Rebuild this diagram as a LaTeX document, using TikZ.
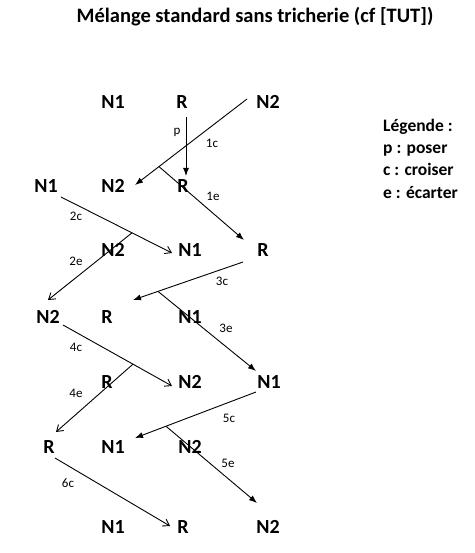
\documentclass[tikz,border=0pt]{standalone}
\usepackage{fontspec}
\setmainfont{Carlito}
\usetikzlibrary{positioning,arrows.meta}

\begin{document}
\begin{tikzpicture}[x=1pt,y=-1pt,
    every node/.style={inner sep=0pt,text depth=0pt},
    carte/.style={font=\bfseries\fontsize{20}{24}\selectfont},
    etape/.style={font=\fontsize{13}{15}\selectfont},
    legende/.style={anchor=base west,font=\bfseries\fontsize{17.5}{20}\selectfont},
    plein/.style={line width=0.9pt,-{Latex[length=8pt,width=6pt]}},
    ouvert/.style={line width=0.9pt,-{Straight Barb[length=6pt,width=8pt]}}]
  \useasboundingbox (0,0) rectangle (474,553);
  \node[anchor=base,font=\bfseries\fontsize{20.5}{24}\selectfont] (titre) at (255,23) {Mélange standard sans tricherie (cf [TUT])};
  \node[carte] (a1) at (113,102) {N1};
  \node[carte] (a2) at (182,102) {R};
  \node[carte] (a3) at (268,102) {N2};
  \node[carte] (b1) at (46,186) {N1};
  \node[carte] (b2) at (113,186) {N2};
  \node[carte] (b3) at (183,186) {R};
  \node[carte] (c1) at (113,250) {N2};
  \node[carte] (c2) at (190,250) {N1};
  \node[carte] (c3) at (263,250) {R};
  \node[carte] (d1) at (48,317) {N2};
  \node[carte] (d2) at (107,317) {R};
  \node[carte] (d3) at (190,317) {N1};
  \node[carte] (e1) at (107,382) {R};
  \node[carte] (e2) at (190,382) {N2};
  \node[carte] (e3) at (269,382) {N1};
  \node[carte] (f1) at (49,447) {R};
  \node[carte] (f2) at (113,447) {N1};
  \node[carte] (f3) at (190,447) {N2};
  \node[carte] (g1) at (113,527) {N1};
  \node[carte] (g2) at (183,527) {R};
  \node[carte] (g3) at (268,527) {N2};
  % bouts des fleches
  \coordinate (p0) at (186,117);
  \coordinate (p1) at (186,176);
  \coordinate (c1s) at (247,99);
  \coordinate (c1e) at (135,185);
  \coordinate (e1e) at (244,240);
  \coordinate (c2s) at (61,197);
  \coordinate (c2e) at (172,253);
  \coordinate (e2e) at (48,300);
  \coordinate (c3s) at (243,262);
  \coordinate (c3e) at (133,300);
  \coordinate (e3e) at (256,371);
  \coordinate (c4s) at (63,325);
  \coordinate (c4e) at (172,386);
  \coordinate (e4e) at (56,432);
  \coordinate (c5s) at (256,392);
  \coordinate (c5e) at (135,438);
  \coordinate (e5e) at (257,503);
  \coordinate (c6s) at (55,458);
  \coordinate (c6e) at (170,526);
  \draw[plein] (p0) -- (p1);
  \draw[plein] (c1s) -- coordinate[pos=0.786] (e1s) (c1e);
  \draw[plein] (e1s) -- (e1e);
  \draw[ouvert] (c2s) -- coordinate[pos=0.64] (e2s) (c2e);
  \draw[ouvert] (e2s) -- (e2e);
  \draw[plein] (c3s) -- coordinate[pos=0.773] (e3s) (c3e);
  \draw[plein] (e3s) -- (e3e);
  \draw[ouvert] (c4s) -- coordinate[pos=0.642] (e4s) (c4e);
  \draw[ouvert] (e4s) -- (e4e);
  \draw[plein] (c5s) -- coordinate[pos=0.744] (e5s) (c5e);
  \draw[plein] (e5s) -- (e5e);
  \draw[ouvert] (c6s) -- (c6e);
  % etapes
  \node[etape] (lp) at (177,131) {p};
  \node[etape] (l1c) at (212,143) {1c};
  \node[etape] (l1e) at (213,196) {1e};
  \node[etape] (l2c) at (76,216) {2c};
  \node[etape] (l2e) at (76,261) {2e};
  \node[etape] (l3c) at (222,281) {3c};
  \node[etape] (l3e) at (226,328) {3e};
  \node[etape] (l4c) at (76,347) {4c};
  \node[etape] (l4e) at (76,393) {4e};
  \node[etape] (l5c) at (229,418) {5c};
  \node[etape] (l5e) at (228,463) {5e};
  \node[etape] (l6c) at (68,483) {6c};
  % legende
  \node[legende] (leg) at (383,132) {Légende :};
  \node[legende] (legp) at (383,154) {p : poser};
  \node[legende] (legc) at (383,176) {c : croiser};
  \node[legende] (lege) at (383,198) {e : écarter};
\end{tikzpicture}
\end{document}
